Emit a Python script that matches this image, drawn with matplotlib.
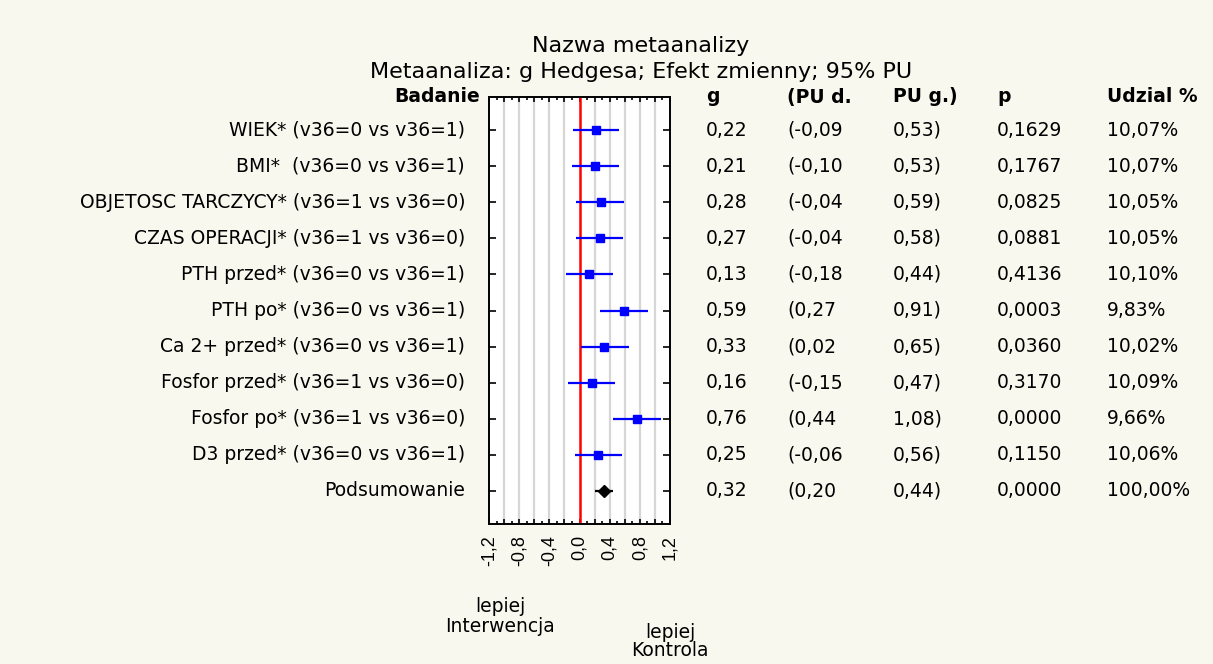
import matplotlib
matplotlib.use("Agg")
import matplotlib.pyplot as plt
import matplotlib.transforms as mtransforms
import numpy as np

plt.rcParams['font.family'] = ['DejaVu Sans']

# data
studies = ["WIEK* (v36=0 vs v36=1)", "BMI*  (v36=0 vs v36=1)",
           "OBJETOSC TARCZYCY* (v36=1 vs v36=0)", "CZAS OPERACJI* (v36=1 vs v36=0)",
           "PTH przed* (v36=0 vs v36=1)", "PTH po* (v36=0 vs v36=1)",
           "Ca 2+ przed* (v36=0 vs v36=1)", "Fosfor przed* (v36=1 vs v36=0)",
           "Fosfor po* (v36=1 vs v36=0)", "D3 przed* (v36=0 vs v36=1)",
           "Podsumowanie"]
g = [0.22, 0.21, 0.28, 0.27, 0.13, 0.59, 0.33, 0.16, 0.76, 0.25, 0.32]
ci_low = [-0.09, -0.10, -0.04, -0.04, -0.18, 0.27, 0.02, -0.15, 0.44, -0.06, 0.20]
ci_high = [0.53, 0.53, 0.59, 0.58, 0.44, 0.91, 0.65, 0.47, 1.08, 0.56, 0.44]
p_val = [0.1629, 0.1767, 0.0825, 0.0881, 0.4136, 0.0003, 0.0360, 0.3170, 0.0000, 0.1150, 0.0000]
weight = [10.07, 10.07, 10.05, 10.05, 10.10, 9.83, 10.02, 10.09, 9.66, 10.06, 100.00]
xticks = [-1.2, -0.8, -0.4, 0.0, 0.4, 0.8, 1.2]

def pl(v, n):
    if abs(v) < 1e-9:
        v = 0.0
    return f"{v:.{n}f}".replace(".", ",")

W, H = 1213, 664
bg = "#f9f8ee"
fs = 13.5
fig = plt.figure(figsize=(W / 100, H / 100), dpi=100, facecolor=bg)
ax = fig.add_axes([489 / W, 1 - 524 / H, 181 / W, 427 / H])
ax.set_facecolor("white")

rows = np.arange(1, len(g) + 1)
ax.set_xlim(-1.2, 1.2)
ax.set_ylim(11.92, 0.08)

# grid
for gx in np.arange(-1.0, 1.01, 0.2):
    if abs(gx) > 1e-9:
        ax.axvline(gx, color="#d6d6d6", lw=1.6, zorder=1)
ax.axvline(0, color="#ff0000", lw=1.8, zorder=2)

n = len(g) - 1
ax.hlines(rows[:n], ci_low[:n], ci_high[:n], color="#0000ff", lw=1.6, zorder=3)
ax.plot(g[:n], rows[:n], "s", color="#0000ff", ms=6, zorder=4)
ax.hlines(rows[n], ci_low[n], ci_high[n], color="black", lw=1.6, zorder=3)
ax.plot(g[n], rows[n], "D", color="black", ms=6.5, zorder=4)

# ticks
major = np.round(np.arange(-1.2, 1.21, 0.2), 1)
ax.set_xticks(major)
ax.set_xticklabels([pl(t, 1) if any(abs(t - x) < 1e-9 for x in xticks) else "" for t in major],
                   rotation=90, fontsize=13, family="Liberation Sans")
ax.set_xticks(np.arange(-1.2, 1.21, 0.1), minor=True)
ax.tick_params(axis="x", which="major", direction="in", top=True, bottom=True, length=3.5, width=1.2, pad=8)
ax.tick_params(axis="x", which="minor", direction="in", top=True, bottom=True, length=2, width=1.2)
ax.set_yticks(rows)
ax.set_yticklabels([])
ax.tick_params(axis="y", direction="in", left=True, right=True, length=5, width=1.2)
for s in ax.spines.values():
    s.set_linewidth(1.4)

# study labels and table
tr = mtransforms.blended_transform_factory(fig.transFigure, ax.transData)
ax.text(480 / W, 0.08, "Badanie", transform=tr, ha="right", va="center",
        fontsize=fs, fontweight="bold")
heads = [(706, "g"), (787, "(PU d."), (893, "PU g.)"), (997, "p"), (1107, "Udzial %")]
for x, h in heads:
    ax.text(x / W, 0.08, h, transform=tr, ha="left", va="center", fontsize=fs, fontweight="bold")

for i, r in enumerate(rows):
    ax.text(465 / W, r, studies[i], transform=tr, ha="right", va="center", fontsize=fs)
    ax.text(706 / W, r, pl(g[i], 2), transform=tr, ha="left", va="center", fontsize=fs)
    ax.text(787 / W, r, "(" + pl(ci_low[i], 2), transform=tr, ha="left", va="center", fontsize=fs)
    ax.text(893 / W, r, pl(ci_high[i], 2) + ")", transform=tr, ha="left", va="center", fontsize=fs)
    ax.text(997 / W, r, pl(p_val[i], 4), transform=tr, ha="left", va="center", fontsize=fs)
    ax.text(1107 / W, r, pl(weight[i], 2) + "%", transform=tr, ha="left", va="center", fontsize=fs)

# title
fig.text(641 / W, 1 - 46 / H, "Nazwa metaanalizy", ha="center", va="center", fontsize=16)
fig.text(641 / W, 1 - 72 / H, "Metaanaliza: g Hedgesa; Efekt zmienny; 95% PU",
         ha="center", va="center", fontsize=16)

# bottom labels
for x, y, s in [(500, 607, "lepiej"), (500, 626, "Interwencja"),
                (670, 632, "lepiej"), (670, 650, "Kontrola")]:
    fig.text(x / W, 1 - y / H, s, ha="center", va="center", fontsize=fs)

fig.savefig("out.png", dpi=100, facecolor=bg)
